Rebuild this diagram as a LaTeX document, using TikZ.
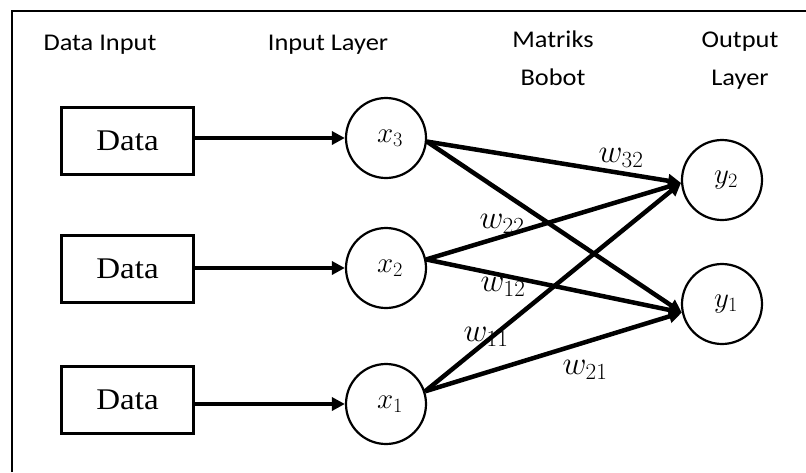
\RequirePackage{fix-cm}
\documentclass[tikz,border=0pt]{standalone}
\usepackage{fontspec}
\setmainfont{Liberation Serif}[FakeStretch=1.1]
\newfontfamily\hdfont{Carlito}[FakeStretch=1.1]
\usetikzlibrary{arrows.meta}
\begin{document}
\begin{tikzpicture}[x=1pt,y=-1pt,
  hd/.style={font=\hdfont\fontsize{24}{38}\selectfont, inner sep=0pt, align=center},
  databox/.style={draw, line width=2.5pt, minimum width=132pt, minimum height=67pt, inner sep=0pt, font=\fontsize{30}{32}\selectfont},
  neuron/.style={draw, circle, line width=2.2pt, minimum size=80pt, inner sep=0pt, font=\fontsize{29}{30}\selectfont},
  wlab/.style={inner sep=0pt, font=\fontsize{33}{34}\selectfont},
  conn/.style={line width=4.5pt, -{Triangle[length=13pt,width=13pt]}},
]
\useasboundingbox (0,0) rectangle (806,472);
\draw[line width=2pt] (12,472) -- (12,11) -- (806,11);

\node[hd, anchor=base] (h1) at (100,50) {Data Input};
\node[hd, anchor=base] (h2) at (328,50) {Input Layer};
\node[hd, anchor=base] (h3) at (553,85) {Matriks\\Bobot};
\node[hd, anchor=base] (h4) at (740,85) {Output\\Layer};

\node[databox] (d3) at (127.5,141) {Data};
\node[databox] (d2) at (127.5,269) {Data};
\node[databox] (d1) at (127.5,400) {Data};

\node[neuron] (x3) at (386,138) {\hspace*{8pt}$x_3$};
\node[neuron] (x2) at (386,268) {\hspace*{8pt}$x_2$};
\node[neuron] (x1) at (386,404) {\hspace*{8pt}$x_1$};
\node[neuron] (y2) at (722,180) {\hspace*{8pt}$y_2$};
\node[neuron] (y1) at (722,304) {\hspace*{8pt}$y_1$};

\node[wlab] (w32) at (621,158) {$w_{32}$};
\node[wlab] (w22) at (502,224) {$w_{22}$};
\node[wlab] (w12) at (503,287) {$w_{12}$};
\node[wlab] (w11) at (486,337) {$w_{11}$};
\node[wlab] (w21) at (585,370) {$w_{21}$};

\draw[conn] (d3.east |- x3.center) -- (x3.west);
\draw[conn] (d2.east |- x2.center) -- (x2.west);
\draw[conn] (d1.east |- x1.center) -- (x1.west);

\draw[conn] (x3.-5) -- (y2.184);
\draw[conn] (x3.-5) -- (y1.192);
\draw[conn] (x2.12) -- (y2.184);
\draw[conn] (x2.12) -- (y1.192);
\draw[conn] (x1.18) -- (y2.184);
\draw[conn] (x1.18) -- (y1.192);
\end{tikzpicture}
\end{document}
